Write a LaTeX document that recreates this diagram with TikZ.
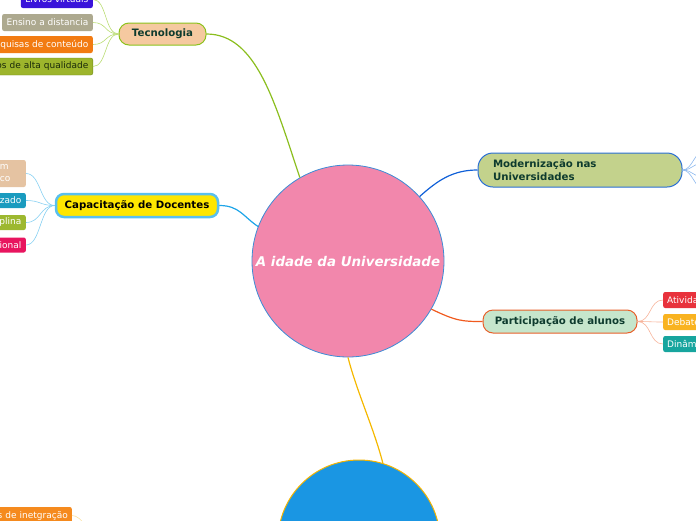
\documentclass[tikz,border=0pt]{standalone}
\usepackage{fontspec}
\setmainfont{DejaVu Sans}
\definecolor{mainfill}{HTML}{F287AC}
\definecolor{mainbd}{HTML}{3C8CD6}
\definecolor{botfill}{HTML}{1A96E3}
\definecolor{botbd}{HTML}{F5B400}
\definecolor{tecfill}{HTML}{F5C9A0}
\definecolor{tecbd}{HTML}{8CC21C}
\definecolor{capfill}{HTML}{FFE600}
\definecolor{capbd}{HTML}{5AC0EE}
\definecolor{modfill}{HTML}{C3D28C}
\definecolor{modbd}{HTML}{2A6FD5}
\definecolor{partfill}{HTML}{C6E6CC}
\definecolor{partbd}{HTML}{E8602A}
\definecolor{darkgreen}{HTML}{0E3B2E}
\definecolor{tecline}{HTML}{8BBE1E}
\definecolor{capline}{HTML}{1EA5E8}
\definecolor{modline}{HTML}{1060D8}
\definecolor{partline}{HTML}{F05A1E}
\definecolor{botline}{HTML}{F5B800}
\definecolor{tectwig}{HTML}{B9DC72}
\definecolor{captwig}{HTML}{86D0F2}
\definecolor{modtwig}{HTML}{8CB8EE}
\definecolor{parttwig}{HTML}{F7B39A}
\definecolor{bottwig}{HTML}{F9E0A0}
\definecolor{tonefill}{HTML}{3A14DA}
\definecolor{ttwofill}{HTML}{ADA98F}
\definecolor{tthreefill}{HTML}{F27B12}
\definecolor{tfourfill}{HTML}{9DB52C}
\definecolor{tfourbd}{HTML}{6F8A1A}
\definecolor{tfourtext}{HTML}{1A2A0A}
\definecolor{konefill}{HTML}{E5C3A2}
\definecolor{ktwofill}{HTML}{1A9BBF}
\definecolor{kthreefill}{HTML}{9DB830}
\definecolor{kfourfill}{HTML}{E8155F}
\definecolor{ponefill}{HTML}{E8323C}
\definecolor{ptwofill}{HTML}{F9B320}
\definecolor{pthreefill}{HTML}{17A59E}
\definecolor{bonefill}{HTML}{F58A1E}
\begin{document}
\begin{tikzpicture}[x=1pt,y=-1pt,
  mainnode/.style={circle, draw=mainbd, fill=mainfill, line width=0.8pt, minimum size=192pt, inner sep=0pt, text=white, font=\fontsize{13.4}{16}\selectfont\bfseries\itshape},
  topicbox/.style={draw, line width=1pt, inner sep=0pt, font=\fontsize{10.2}{13}\selectfont\bfseries},
  leaf/.style={rounded corners=2pt, inner xsep=4.5pt, inner ysep=0pt, minimum height=17pt, text=white, font=\fontsize{9}{12}\selectfont},
  conn/.style={line width=1.2pt},
  twig/.style={line width=0.6pt}]
\useasboundingbox (0,0) rectangle (696,520);

% central and bottom circles
\node[mainnode] (main) at (348,261) {A idade da Universidade};
\node[circle, draw=botbd, fill=botfill, line width=1pt, minimum size=162pt, inner sep=0pt] (bot) at (359,541) {};

% topics
\node[topicbox, fill=tecfill, draw=tecbd, text=darkgreen, rounded corners=10pt, minimum width=87pt, minimum height=22pt] (tec) at (162.5,34) {Tecnologia};
\node[topicbox, fill=capfill, draw=capbd, line width=2.5pt, rounded corners=8pt, minimum width=162pt, minimum height=23pt] (cap) at (137,205.5) {Capacitação de Docentes};
\node[topicbox, fill=modfill, draw=modbd, text=darkgreen, rounded corners=15pt, minimum width=204pt, minimum height=34pt, text width=174pt, align=left] (mod) at (580,170) {Modernização nas\\Universidades};
\node[topicbox, fill=partfill, draw=partbd, text=darkgreen, rounded corners=10pt, minimum width=154pt, minimum height=23pt] (part) at (560,321.5) {Participação de alunos};

% Tecnologia leaves
\node[leaf, fill=tonefill, anchor=east] (t1) at (93,-0.5) {Livros virtuais};
\node[leaf, fill=ttwofill, anchor=east] (t2) at (93,22.5) {Ensino a distancia};
\node[leaf, fill=tthreefill, anchor=east] (t3) at (93,44.5) {Pesquisas de conteúdo};
\node[leaf, fill=tfourfill, draw=tfourbd, text=tfourtext, anchor=east, text width=110pt, align=right] (t4) at (93,66.5) {os de alta qualidade};

% Capacitacao leaves
\node[leaf, fill=konefill, anchor=east, text width=23pt, align=left, minimum height=27pt, inner xsep=3pt] (k1) at (26,173.5) {m\\co};
\node[leaf, fill=ktwofill, anchor=east, minimum height=15pt] (k2) at (26,200.5) {izado};
\node[leaf, fill=kthreefill, anchor=east, minimum height=15pt] (k3) at (26,222.5) {iplina};
\node[leaf, fill=kfourfill, anchor=east, minimum height=15pt] (k4) at (26,245) {sional};

% Participacao leaves
\node[leaf, fill=ponefill, anchor=west, text width=50pt, align=left, inner xsep=4pt, minimum height=16pt] (p1) at (663,300) {Ativida};
\node[leaf, fill=ptwofill, anchor=west, text width=50pt, align=left, inner xsep=4pt, minimum height=16pt] (p2) at (663,322) {Debate};
\node[leaf, fill=pthreefill, anchor=west, text width=50pt, align=left, inner xsep=4pt, minimum height=16pt] (p3) at (663,344) {Dinâm};

% bottom-left leaf
\node[leaf, fill=bonefill, anchor=east, text width=80pt, align=right, inner xsep=4pt] (b1) at (72,515.5) {s de inetgração};

% free ends
\coordinate (m1) at (705,150);
\coordinate (m2) at (705,162);
\coordinate (m3) at (705,178);
\coordinate (m4) at (705,190);
\coordinate (bz) at (95,545);

% main connectors
\draw[conn, draw=tecline] (tec.east) .. controls +(50,0) and +(-25,-75) .. (main.120);
\draw[conn, draw=capline] (cap.east) .. controls +(20,0) and +(-15,-10) .. (main.159);
\draw[conn, draw=modline] (main.42) .. controls +(18,-16) and +(-25,0) .. (mod.west);
\draw[conn, draw=partline] (main.-30) .. controls +(25,12) and +(-20,0) .. (part.west);
\draw[conn, draw=botline] (main.-90) .. controls +(9,35) and +(-9,-35) .. (bot.73);

% twigs
\foreach \t in {t1,t2,t3,t4}
  \draw[twig, draw=tectwig] (tec.west) .. controls +(-14,0) and +(14,0) .. (\t.east);
\foreach \k in {k1,k2,k3,k4}
  \draw[twig, draw=captwig] (cap.west) .. controls +(-15,0) and +(15,0) .. (\k.east);
\foreach \p in {p1,p2,p3}
  \draw[twig, draw=parttwig] (part.east) .. controls +(14,0) and +(-14,0) .. (\p.west);
\foreach \m in {m1,m2,m3,m4}
  \draw[twig, draw=modtwig] (mod.east) .. controls +(10,0) and +(-10,0) .. (\m);
\draw[twig, draw=bottwig] (b1.east) .. controls +(10,0) and +(-5,-12) .. (bz);
\end{tikzpicture}
\end{document}
